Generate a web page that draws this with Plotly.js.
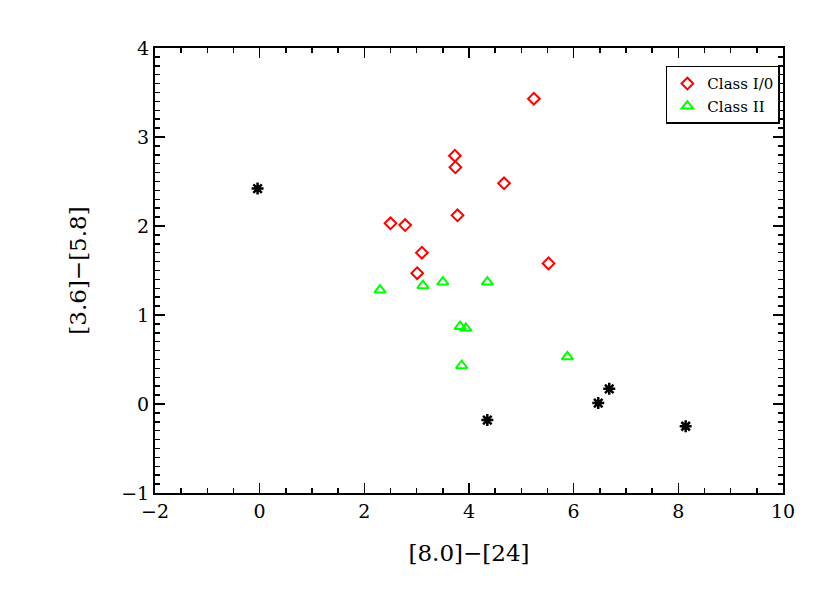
<!DOCTYPE html>
<html>
<head>
<meta charset="utf-8">
<script src="https://cdn.plot.ly/plotly-3.0.1.min.js"></script>
<style>html,body{margin:0;padding:0;background:#fff;}</style>
</head>
<body>
<div id="chart" style="width:830px;height:593px;"></div>
<script>
// Class I/0 (red diamonds)
const class10X = [5.24, 3.73, 3.74, 4.67, 3.78, 2.50, 2.78, 3.10, 3.01, 5.52];
const class10Y = [3.43, 2.79, 2.66, 2.48, 2.12, 2.03, 2.01, 1.70, 1.47, 1.58];
// Class II (green triangles)
const class2X = [2.30, 3.12, 3.50, 4.35, 3.83, 3.94, 3.86, 5.88];
const class2Y = [1.28, 1.33, 1.37, 1.37, 0.87, 0.85, 0.43, 0.53];
// Other sources (black asterisks)
const otherX = [-0.04, 4.35, 6.47, 6.68, 8.14];
const otherY = [2.42, -0.18, 0.01, 0.17, -0.25];

const xTickVals = [-2, 0, 2, 4, 6, 8, 10];
const yTickVals = [-1, 0, 1, 2, 3, 4];

const fontFam = '"DejaVu Serif", "Liberation Serif", serif';

const traces = [
  {
    x: otherX, y: otherY, type: 'scatter', mode: 'markers', showlegend: false,
    marker: {symbol: 'asterisk-open', size: 10, color: 'black', line: {color: 'black', width: 2.5}}
  },
  {
    x: class10X, y: class10Y, type: 'scatter', mode: 'markers', name: 'Class I/0',
    marker: {symbol: 'diamond-open', size: 9, color: '#ff0000', line: {color: '#ff0000', width: 2}}
  },
  {
    x: class2X, y: class2Y, type: 'scatter', mode: 'markers', name: 'Class II',
    marker: {symbol: 'triangle-up-open', size: 10, color: '#00ff00', line: {color: '#00ff00', width: 2}}
  }
];

const axisCommon = {
  showgrid: false, zeroline: false, showline: true, linecolor: 'black', linewidth: 2,
  mirror: 'allticks', ticks: 'inside', ticklen: 10, tickwidth: 1.5, tickcolor: 'black',
  tickfont: {family: fontFam, size: 19, color: 'black'}
};

const layout = {
  width: 830, height: 593,
  margin: {l: 155, r: 47, t: 48, b: 100},
  paper_bgcolor: 'white', plot_bgcolor: 'white',
  font: {family: fontFam, color: 'black'},
  xaxis: Object.assign({}, axisCommon, {
    range: [-2, 10], tickmode: 'array', tickvals: xTickVals,
    minor: {dtick: 0.5, ticks: 'inside', ticklen: 5, tickwidth: 1.5, tickcolor: 'black'},
    title: {text: '[8.0]\u2212[24]', font: {family: fontFam, size: 23, color: 'black'}, standoff: 24}
  }),
  yaxis: Object.assign({}, axisCommon, {
    range: [-1, 4], tickmode: 'array', tickvals: yTickVals,
    minor: {dtick: 0.1, ticks: 'inside', ticklen: 5, tickwidth: 1.5, tickcolor: 'black'},
    title: {text: '[3.6]\u2212[5.8]', font: {family: fontFam, size: 23, color: 'black'}, standoff: 28}
  }),
  legend: {
    x: 0.995, xanchor: 'right', y: 0.96, yanchor: 'top',
    bgcolor: 'white', bordercolor: 'black', borderwidth: 1.5,
    font: {family: fontFam, size: 15, color: 'black'},
    tracegroupgap: 0, itemwidth: 30
  }
};

Plotly.newPlot('chart', traces, layout, {displayModeBar: false, staticPlot: true});
</script>
</body>
</html>
